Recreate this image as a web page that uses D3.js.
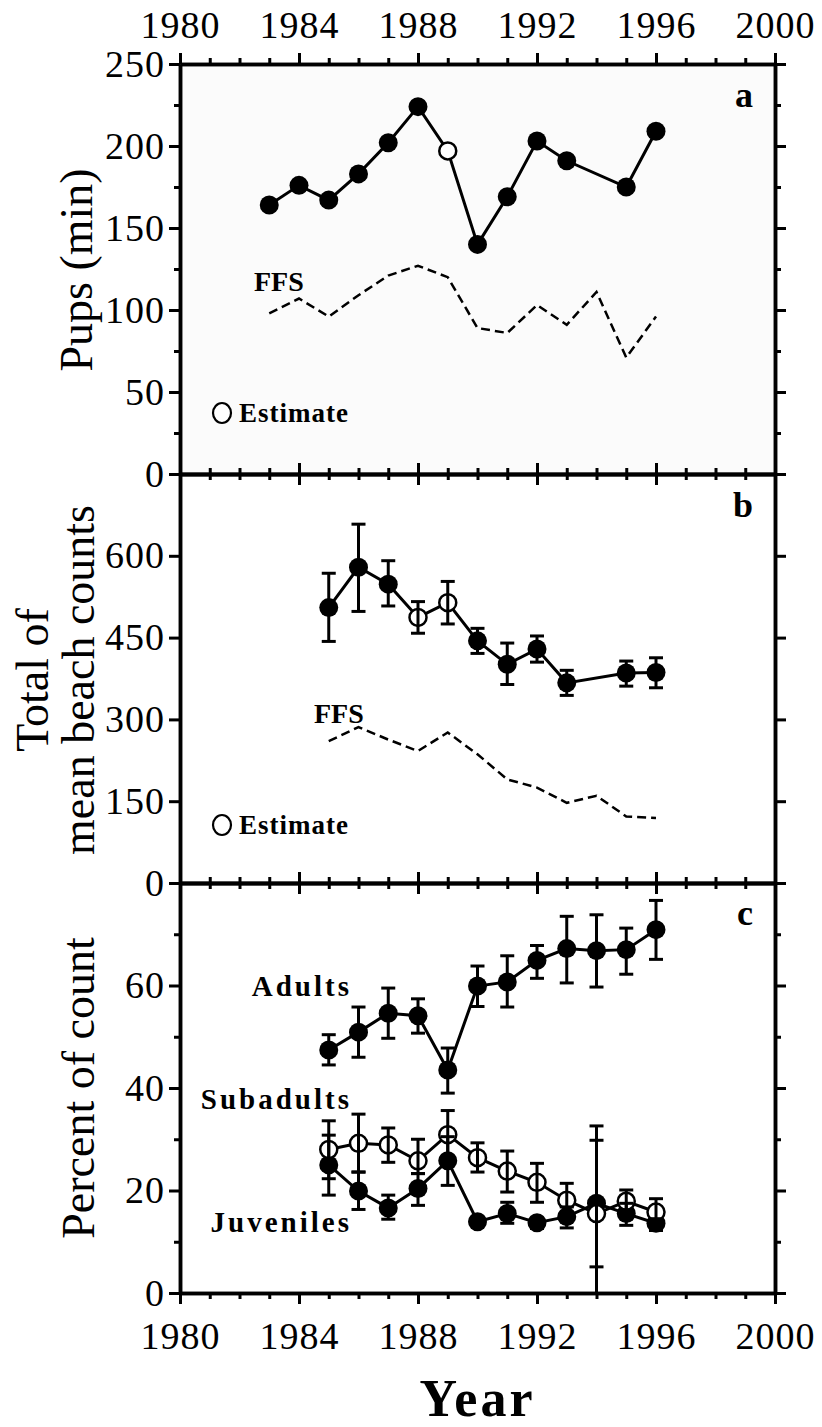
<!DOCTYPE html>
<html>
<head>
<meta charset="utf-8">
<script src="https://cdn.jsdelivr.net/npm/d3@7"></script>
<style>
  body { margin: 0; background: #fff; }
  svg text { font-family: "Liberation Serif", "Times New Roman", serif; fill: #000; }
</style>
</head>
<body>
<svg id="chart" width="822" height="1427"></svg>
<script>
// panel a: pups (min)
var pupYears = [1983, 1984, 1985, 1986, 1987, 1988, 1989, 1990, 1991, 1992, 1993, 1995, 1996];
var pupCounts = [164, 176, 167, 183, 202, 224, 197, 140, 169, 203, 191, 175, 209];
var pupEstimated = [0, 0, 0, 0, 0, 0, 1, 0, 0, 0, 0, 0, 0];
var ffsPupYears = [1983, 1984, 1985, 1986, 1987, 1988, 1989, 1990, 1991, 1992, 1993, 1994, 1995, 1996];
var ffsPups = [98, 107, 96, 109, 121, 127, 120, 89, 86, 103, 91, 111, 71, 96];

// panel b: total of mean beach counts
var beachYears = [1985, 1986, 1987, 1988, 1989, 1990, 1991, 1992, 1993, 1995, 1996];
var beachMeans = [505, 579, 548, 487, 514, 444, 401, 429, 367, 385, 386];
var beachLow = [443, 498, 508, 458, 475, 421, 364, 405, 344, 361, 358];
var beachHigh = [568, 658, 591, 516, 553, 467, 440, 453, 390, 407, 413];
var beachEstimated = [0, 0, 0, 1, 1, 0, 0, 0, 0, 0, 0];
var ffsBeachYears = [1985, 1986, 1987, 1988, 1989, 1990, 1991, 1992, 1993, 1994, 1995, 1996];
var ffsBeach = [260, 286, 263, 242, 276, 236, 190, 175, 147, 160, 122, 119];

// panel c: percent of count by age class
var ageYears = [1985, 1986, 1987, 1988, 1989, 1990, 1991, 1992, 1993, 1994, 1995, 1996];
var adults = [47.4, 50.9, 54.6, 54.1, 43.5, 59.9, 60.7, 64.9, 67.2, 66.8, 67.0, 70.9];
var adultsLow = [44.5, 46.0, 49.7, 50.7, 39.0, 55.9, 55.8, 61.4, 60.5, 59.7, 62.2, 65.1];
var adultsHigh = [50.4, 55.8, 59.5, 57.4, 47.8, 63.8, 65.8, 67.8, 73.5, 73.8, 71.2, 76.6];
var subadults = [28.0, 29.2, 28.9, 25.8, 30.9, 26.4, 23.8, 21.6, 18.1, 15.5, 17.9, 15.8];
var subadultsLow = [22.3, 23.6, 25.5, 23.3, 26.6, 23.6, 19.7, 17.7, 15.5, 0, 16.2, 13.9];
var subadultsHigh = [33.6, 34.9, 32.2, 30.0, 35.6, 29.3, 27.7, 25.3, 21.4, 29.8, 20.1, 18.4];
var juveniles = [25.0, 19.9, 16.6, 20.4, 25.8, 13.9, 15.5, 13.7, 14.9, 17.5, 15.5, 13.6];
var juvenilesLow = [19.1, 16.3, 14.4, 17.1, 21.0, 13.9, 13.6, 12.6, 12.7, 5.1, 13.2, 12.2];
var juvenilesHigh = [30.8, 23.6, 19.1, 23.3, 30.5, 13.9, 17.7, 14.5, 16.8, 32.6, 17.5, 14.5];

// axis ticks
var yearMajor = [1980, 1984, 1988, 1992, 1996, 2000];
var yearMinor = d3.range(1980, 2001).filter(function (y) { return yearMajor.indexOf(y) < 0; });
var pupTicks = [0, 50, 100, 150, 200, 250];
var pupMinor = [25, 75, 125, 175, 225];
var beachTicks = [0, 150, 300, 450, 600, 750];
var beachLabels = [0, 150, 300, 450, 600];
var pctTicks = [0, 20, 40, 60, 80];
var pctMinor = [10, 30, 50, 70];
var pctLabels = [0, 20, 40, 60];

var svg = d3.select('#chart');
svg.append('rect').attr('width', 822).attr('height', 1427).attr('fill', '#fff');

var left = 180, right = 775;
var x = d3.scaleLinear().domain([1980, 2000]).range([left, right]);

var panels = [
	{ top: 64, bottom: 474, max: 250, ticks: pupTicks, minor: pupMinor, labels: pupTicks, letter: 'a', bg: '#fbfbfb' },
	{ top: 474, bottom: 883, max: 750, ticks: beachTicks, minor: [], labels: beachLabels, letter: 'b', bg: '#fff' },
	{ top: 883, bottom: 1293, max: 80, ticks: pctTicks, minor: pctMinor, labels: pctLabels, letter: 'c', bg: '#fff' }
];
panels.forEach(function (p) {
	p.y = d3.scaleLinear().domain([0, p.max]).range([p.bottom, p.top]);
});

function styleAxis(g) {
	g.attr('font-family', null).attr('font-size', null);
	g.select('.domain').attr('stroke-width', 3.5);
	g.selectAll('.tick line').attr('stroke-width', 3);
	g.selectAll('.tick text').attr('font-size', 38).attr('letter-spacing', 1);
}

// backgrounds first
panels.forEach(function (p) {
	svg.append('rect')
		.attr('x', left).attr('y', p.top)
		.attr('width', right - left).attr('height', p.bottom - p.top)
		.attr('fill', p.bg);
});

panels.forEach(function (p, i) {
	var y = p.y;

	// minor ticks
	svg.append('g').attr('transform', 'translate(' + left + ',0)')
		.call(d3.axisLeft(y).tickValues(p.minor).tickSize(6).tickSizeOuter(0).tickFormat(''))
		.call(styleAxis);
	svg.append('g').attr('transform', 'translate(' + right + ',0)')
		.call(d3.axisRight(y).tickValues(p.minor).tickSize(6).tickSizeOuter(0).tickFormat(''))
		.call(styleAxis);
	svg.append('g').attr('transform', 'translate(0,' + p.top + ')')
		.call(d3.axisTop(x).tickValues(yearMinor).tickSize(6).tickSizeOuter(0).tickFormat(''))
		.call(styleAxis);
	svg.append('g').attr('transform', 'translate(0,' + p.bottom + ')')
		.call(d3.axisBottom(x).tickValues(yearMinor).tickSize(6).tickSizeOuter(0).tickFormat(''))
		.call(styleAxis);

	// major ticks
	svg.append('g').attr('transform', 'translate(' + left + ',0)')
		.call(d3.axisLeft(y).tickValues(p.ticks).tickSize(11).tickSizeOuter(0).tickPadding(4)
			.tickFormat(function (d) { return p.labels.indexOf(d) >= 0 ? d : ''; }))
		.call(styleAxis);
	svg.append('g').attr('transform', 'translate(' + right + ',0)')
		.call(d3.axisRight(y).tickValues(p.ticks).tickSize(11).tickSizeOuter(0).tickFormat(''))
		.call(styleAxis);
	svg.append('g').attr('transform', 'translate(0,' + p.top + ')')
		.call(d3.axisTop(x).tickValues(yearMajor).tickSize(11).tickSizeOuter(0).tickPadding(15)
			.tickFormat(i === 0 ? d3.format('d') : ''))
		.call(styleAxis);
	svg.append('g').attr('transform', 'translate(0,' + p.bottom + ')')
		.call(d3.axisBottom(x).tickValues(yearMajor).tickSize(11).tickSizeOuter(0).tickPadding(18)
			.tickFormat(i === 2 ? d3.format('d') : ''))
		.call(styleAxis);

	svg.append('text')
		.attr('x', 753).attr('y', p.top + (i === 2 ? 42 : 43))
		.attr('text-anchor', 'end')
		.attr('font-size', 36).attr('font-weight', 'bold')
		.text(p.letter);
});

function zip(xs, ys) {
	return xs.map(function (d, i) { return [d, ys[i]]; });
}

function drawLine(p, xs, ys, dashed) {
	svg.append('path')
		.datum(zip(xs, ys))
		.attr('fill', 'none')
		.attr('stroke', '#000')
		.attr('stroke-width', dashed ? 2.5 : 3)
		.attr('stroke-dasharray', dashed ? '9,5' : null)
		.attr('d', d3.line().x(function (d) { return x(d[0]); }).y(function (d) { return p.y(d[1]); }));
}

// error bars go on top of the markers (they show through the open circles)
function drawErrors(p, xs, lo, hi) {
	var g = svg.append('g').attr('stroke', '#000').attr('stroke-width', 3);
	xs.forEach(function (yr, i) {
		var cx = x(yr), y0 = p.y(lo[i]), y1 = p.y(hi[i]);
		if (Math.abs(y0 - y1) < 2) return;
		g.append('line').attr('x1', cx).attr('x2', cx).attr('y1', y0).attr('y2', y1);
		if (lo[i] > 0) g.append('line').attr('x1', cx - 7).attr('x2', cx + 7).attr('y1', y0).attr('y2', y0);
		g.append('line').attr('x1', cx - 7).attr('x2', cx + 7).attr('y1', y1).attr('y2', y1);
	});
}

function drawPoints(p, xs, ys, open) {
	svg.append('g').selectAll('circle')
		.data(zip(xs, ys))
		.join('circle')
		.attr('cx', function (d) { return x(d[0]); })
		.attr('cy', function (d) { return p.y(d[1]); })
		.attr('r', function (d, i) { return open[i] ? 8.5 : 9.5; })
		.attr('fill', function (d, i) { return open[i] ? '#fff' : '#000'; })
		.attr('stroke', '#000')
		.attr('stroke-width', function (d, i) { return open[i] ? 2.5 : 0; });
}

function label(txt, tx, ty, size, anchor, spacing) {
	svg.append('text')
		.attr('x', tx).attr('y', ty)
		.attr('text-anchor', anchor || 'start')
		.attr('font-size', size).attr('font-weight', 'bold')
		.attr('letter-spacing', spacing || 0)
		.text(txt);
}

function estimateKey(cy) {
	svg.append('ellipse').attr('cx', 222).attr('cy', cy).attr('rx', 9).attr('ry', 10)
		.attr('fill', '#fff').attr('stroke', '#000').attr('stroke-width', 2.2);
	label('Estimate', 239, cy + 9, 27, 'start', 1);
}

// panel a
var pa = panels[0];
drawLine(pa, ffsPupYears, ffsPups, true);
drawLine(pa, pupYears, pupCounts, false);
drawPoints(pa, pupYears, pupCounts, pupEstimated);
label('FFS', 254, 291, 28, 'start', 0);
estimateKey(413);

// panel b
var pb = panels[1];
drawLine(pb, ffsBeachYears, ffsBeach, true);
drawLine(pb, beachYears, beachMeans, false);
drawPoints(pb, beachYears, beachMeans, beachEstimated);
drawErrors(pb, beachYears, beachLow, beachHigh);
label('FFS', 314, 723, 28, 'start', 0);
estimateKey(825);

// panel c
var pc = panels[2];
var none = ageYears.map(function () { return 0; });
var all = ageYears.map(function () { return 1; });
drawLine(pc, ageYears, adults, false);
drawLine(pc, ageYears, subadults, false);
drawLine(pc, ageYears, juveniles, false);
drawPoints(pc, ageYears, adults, none);
drawPoints(pc, ageYears, juveniles, none);
drawPoints(pc, ageYears, subadults, all);
drawErrors(pc, ageYears, adultsLow, adultsHigh);
drawErrors(pc, ageYears, subadultsLow, subadultsHigh);
drawErrors(pc, ageYears, juvenilesLow, juvenilesHigh);
label('Adults', 352, 996, 29, 'end', 3);
label('Subadults', 352, 1109, 29, 'end', 3);
label('Juveniles', 352, 1232, 29, 'end', 3);

// axis titles
function yTitle(txt, tx, ty) {
	svg.append('text')
		.attr('transform', 'translate(' + tx + ',' + ty + ') rotate(-90)')
		.attr('text-anchor', 'middle')
		.attr('font-size', 46)
		.text(txt);
}
yTitle('Pups (min)', 92, 270);
yTitle('Total of', 48, 680);
yTitle('mean beach counts', 94, 680);
yTitle('Percent of count', 94, 1088);

svg.append('text')
	.attr('x', (left + right) / 2).attr('y', 1416)
	.attr('text-anchor', 'middle')
	.attr('font-size', 52).attr('font-weight', 'bold').attr('letter-spacing', 3)
	.text('Year');
</script>
</body>
</html>
